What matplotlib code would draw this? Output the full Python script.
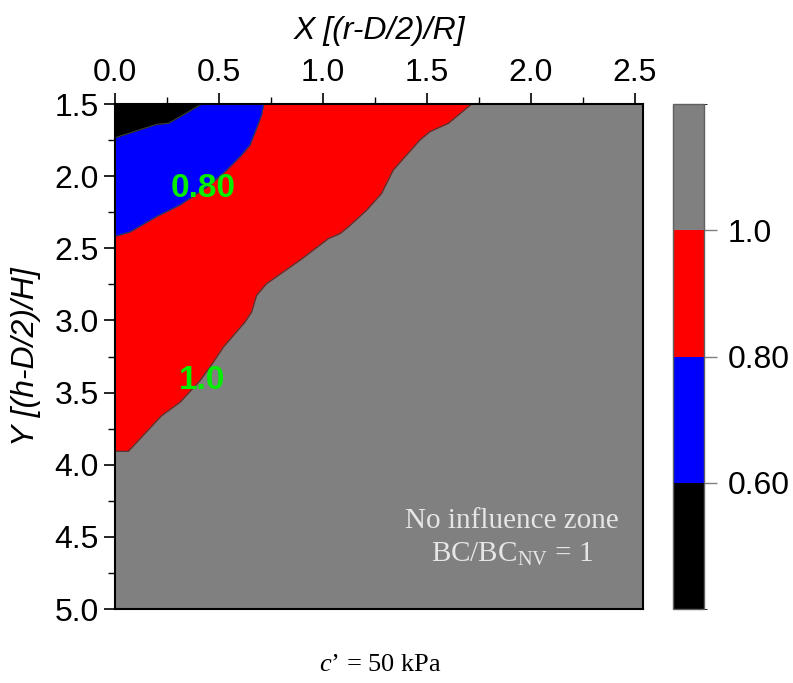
import numpy as np
import matplotlib
matplotlib.use("Agg")
import matplotlib.pyplot as plt
from matplotlib.colors import ListedColormap, BoundaryNorm
from matplotlib.cm import ScalarMappable
from matplotlib.ticker import MultipleLocator

plt.rcParams['font.family'] = ['Liberation Sans', 'DejaVu Sans']
plt.rcParams['mathtext.fontset'] = 'custom'
plt.rcParams['mathtext.rm'] = 'Liberation Serif'
plt.rcParams['mathtext.it'] = 'Liberation Serif:italic'

# contour lines of BC/BC_NV, listed from the top edge (Y = 1.5) downwards
x_060 = [0.417, 0.3125, 0.256, 0.20, 0.0]
y_060 = [1.50, 1.588, 1.634, 1.641, 1.734]

x_080 = [0.716, 0.705, 0.681, 0.649, 0.601, 0.537, 0.457, 0.3125, 0.20, 0.072, 0.0]
y_080 = [1.50, 1.576, 1.669, 1.785, 1.866, 1.958, 2.06, 2.20, 2.28, 2.387, 2.417]

x_100 = [1.715, 1.603, 1.514, 1.466, 1.338, 1.282, 1.21, 1.122, 1.082, 1.026,
         0.889, 0.729, 0.681, 0.657, 0.625, 0.521, 0.473, 0.409, 0.3125, 0.224,
         0.064, 0.0]
y_100 = [1.50, 1.634, 1.692, 1.75, 1.958, 2.12, 2.236, 2.352, 2.398, 2.433,
         2.583, 2.745, 2.826, 2.942, 3.011, 3.185, 3.289, 3.417, 3.567, 3.66,
         3.907, 3.907]

levels = [0.4, 0.6, 0.8, 1.0, 1.2]
level_colors = ['black', 'blue', 'red', '#808080']
cbar_ticks = [0.6, 0.8, 1.0]
cbar_labels = ['0.60', '0.80', '1.0']

fig = plt.figure(figsize=(7.93, 6.83), dpi=100)
ax = fig.add_axes([0.145, 0.1083, 0.666, 0.7394])
ax.set_facecolor(level_colors[3])

# filled bands, drawn from the outer contour inwards
for xs, ys, col in [(x_100, y_100, level_colors[2]),
                    (x_080, y_080, level_colors[1]),
                    (x_060, y_060, level_colors[0])]:
    ax.fill_betweenx(ys, 0, xs, color=col, lw=0)
    ax.plot(xs, ys, color='#404040', lw=0.8)

ax.text(0.425, 2.083, '0.80', color='#00ee00', fontsize=24, fontweight='bold',
        ha='center', va='center')
ax.text(0.418, 3.417, '1.0', color='#00ee00', fontsize=24, fontweight='bold',
        ha='center', va='center')

ax.text(1.91, 4.39, 'No influence zone', color='#e6e6e6', fontsize=21,
        family='Liberation Serif', ha='center', va='center')
ax.text(1.91, 4.62, r'BC/BC$_{\mathrm{NV}}$ = 1', color='#e6e6e6', fontsize=21,
        family='Liberation Serif', ha='center', va='center')

ax.set_xlim(0, 2.54)
ax.set_ylim(5.0, 1.5)
ax.xaxis.tick_top()
ax.xaxis.set_label_position('top')
ax.xaxis.set_major_locator(MultipleLocator(0.5))
ax.xaxis.set_minor_locator(MultipleLocator(0.25))
ax.yaxis.set_major_locator(MultipleLocator(0.5))
ax.yaxis.set_minor_locator(MultipleLocator(0.25))
ax.xaxis.set_major_formatter(lambda v, p: f'{v:.1f}')
ax.yaxis.set_major_formatter(lambda v, p: f'{v:.1f}')
ax.tick_params(axis='both', which='major', labelsize=23, length=8, width=1.2, direction='out')
ax.tick_params(axis='both', which='minor', length=5, width=1.0)
for s in ax.spines.values():
    s.set_linewidth(1.5)

ax.set_xlabel('X [(r-D/2)/R]', fontsize=23, style='italic', labelpad=14)
ax.set_ylabel('Y [(h-D/2)/H]', fontsize=23, style='italic', labelpad=10)

fig.text(0.48, 0.026, r"$c$’ = 50 kPa", fontsize=19, family='Liberation Serif',
         ha='center', va='center')

# colour scale
cax = fig.add_axes([0.8487, 0.1083, 0.039, 0.7394])
cmap = ListedColormap(level_colors)
norm = BoundaryNorm(levels, cmap.N)
cb = fig.colorbar(ScalarMappable(norm=norm, cmap=cmap), cax=cax, ticks=cbar_ticks)
cb.ax.set_yticklabels(cbar_labels)
cb.ax.tick_params(labelsize=23, length=9, width=1.0, color='#808080', pad=8)
cb.outline.set_edgecolor('#606060')
cb.outline.set_linewidth(1.0)

fig.savefig('out.png', dpi=100)
